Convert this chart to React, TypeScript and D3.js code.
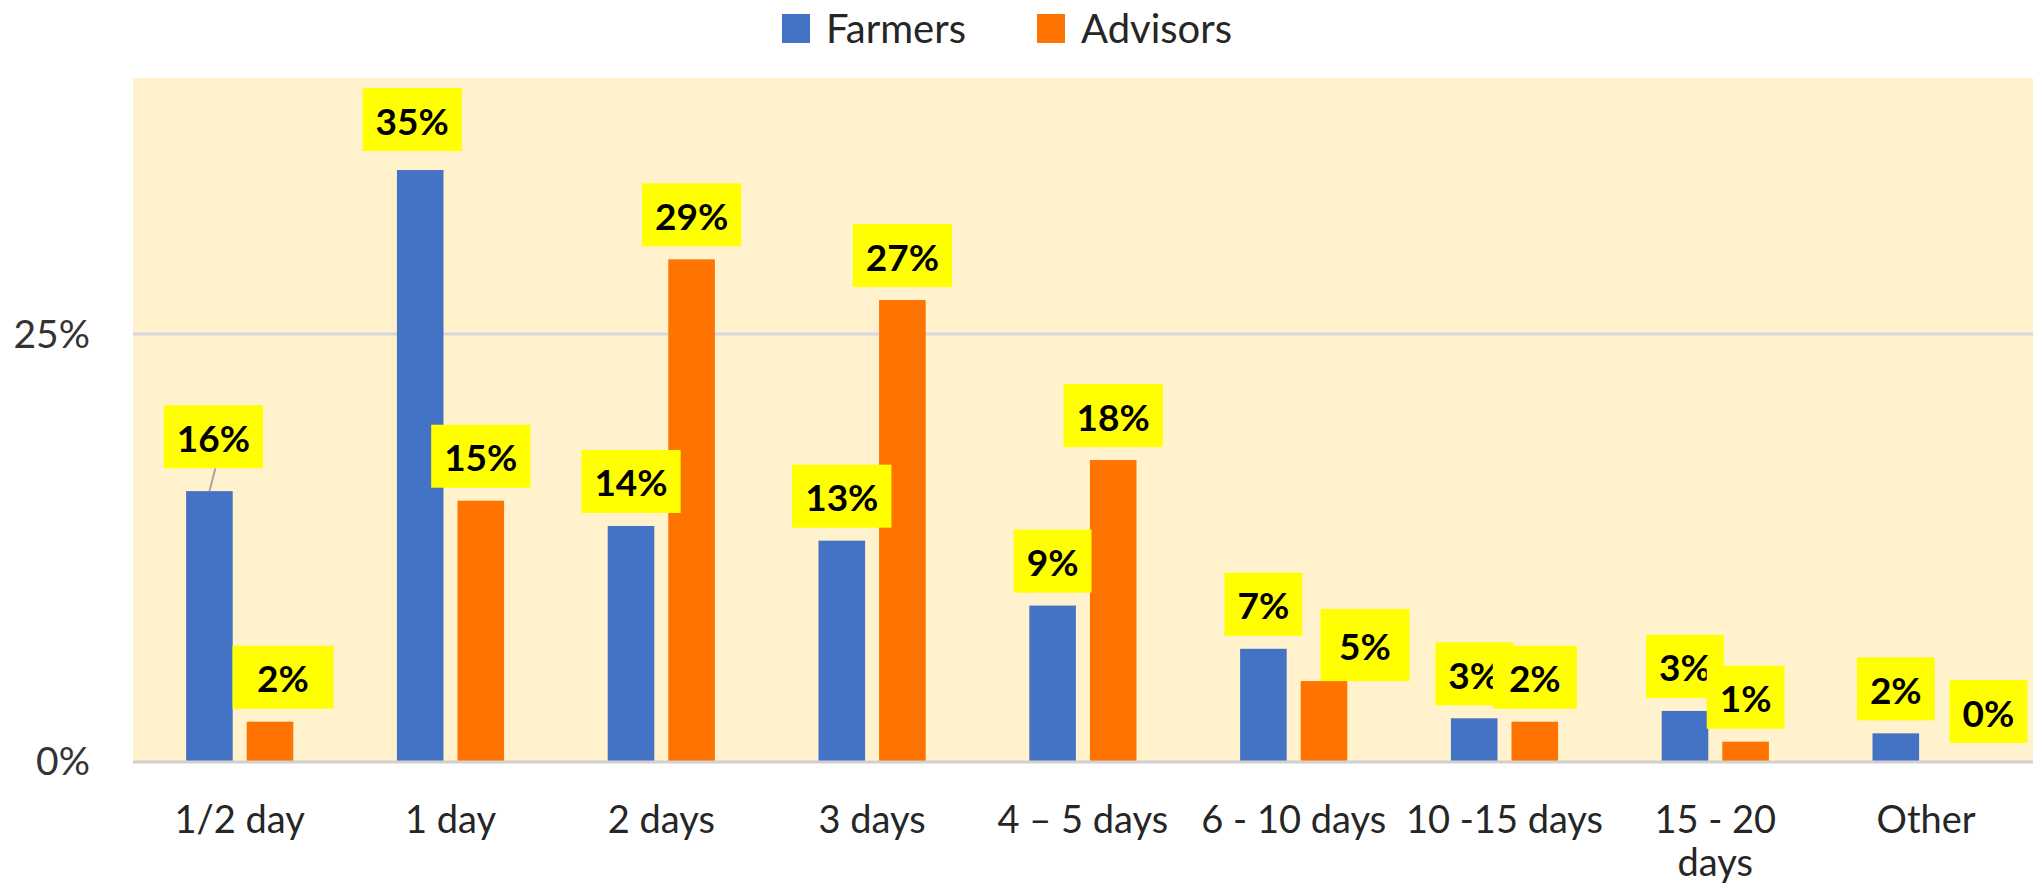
import React, { useEffect, useRef } from 'react';
import * as d3 from 'd3';

// ---- data ----
const categories = ['1/2 day', '1 day', '2 days', '3 days', '4 – 5 days', '6 - 10 days', '10 -15 days', '15 - 20 days', 'Other'];
const seriesNames = ['Farmers', 'Advisors'];
const farmers = [0.158, 0.346, 0.1376, 0.129, 0.091, 0.0657, 0.025, 0.0293, 0.0162];
const advisors = [0.023, 0.1524, 0.2937, 0.2699, 0.1762, 0.0468, 0.023, 0.0113, 0];
const yTicks = [0, 0.25];

// ---- layout / style config ----
const W = 2033;
const H = 891;
const seriesColors = ['#4472C4', '#FF7300'];
const labelLines: Record<string, string[]> = { '15 - 20 days': ['15 - 20', 'days'] };
// manual nudges of data labels (dx from bar centre, gap above bar top, optional box width/height, leader line)
const farmerLabelNudge = [
  { dx: 4, gap: 23, leader: true }, { dx: -8, gap: 19 }, {}, {}, {}, {}, {}, {}, {},
];
const advisorLabelNudge = [
  { dx: 13, gap: 13, w: 101 }, {}, {}, {}, {}, { dx: 41, gap: 0, w: 89, h: 72 }, { w: 84 }, {}, { dx: 32, gap: 18 },
];

const FONT = 'Lato, "Open Sans", "DejaVu Sans", sans-serif';

export default function App() {
  const ref = useRef<SVGSVGElement | null>(null);

  useEffect(() => {
    const svg = d3.select(ref.current);
    svg.selectAll('*').remove();

    const left = 134.3, right = 2031.5, bottom = 761;
    const x0 = d3.scaleBand<string>().domain(categories).range([left, right]).paddingInner(0).paddingOuter(0);
    const x1 = d3.scaleBand<string>().domain(seriesNames).range([0, x0.bandwidth()]).paddingInner(0.231).paddingOuter(0.855);
    const y = d3.scaleLinear().domain([0, 0.4]).range([bottom, 77.8]);
    const fmt = d3.format('.0%');

    // plot background
    svg.append('rect').attr('x', 133).attr('y', y(0.4)).attr('width', W - 133).attr('height', bottom - y(0.4)).attr('fill', '#FFF2CC');

    // gridlines
    svg.selectAll('line.grid').data(yTicks.filter((t) => t > 0)).enter().append('line')
      .attr('x1', 133).attr('x2', W).attr('y1', (d) => y(d)).attr('y2', (d) => y(d))
      .attr('stroke', '#D5D8DF').attr('stroke-width', 3);

    // tick labels
    svg.selectAll('text.tick').data(yTicks).enter().append('text')
      .attr('x', 90).attr('y', (d) => y(d) + 14).attr('text-anchor', 'end')
      .attr('font-family', FONT).attr('font-size', 39).attr('fill', '#333')
      .text((d) => d3.format('.0%')(d));

    const seriesData = [farmers, advisors];

    // bars
    seriesData.forEach((vals, si) => {
      svg.selectAll(`rect.bar${si}`).data(vals).enter().append('rect')
        .attr('x', (_, i) => (x0(categories[i]) as number) + (x1(seriesNames[si]) as number))
        .attr('y', (d) => y(d))
        .attr('width', x1.bandwidth())
        .attr('height', (d) => bottom - y(d))
        .attr('fill', seriesColors[si]);
    });

    // baseline
    svg.append('line').attr('x1', 133).attr('x2', W).attr('y1', bottom + 1).attr('y2', bottom + 1)
      .attr('stroke', '#D0D0D0').attr('stroke-width', 3);

    // data labels
    const nudges = [farmerLabelNudge, advisorLabelNudge];
    seriesData.forEach((vals, si) => {
      vals.forEach((v, i) => {
        const nd: any = nudges[si][i] || {};
        const cx = (x0(categories[i]) as number) + (x1(seriesNames[si]) as number) + x1.bandwidth() / 2;
        const top = y(v);
        const g = svg.append('g');
        const t = g.append('text').attr('font-family', FONT).attr('font-weight', 700).attr('font-size', 37)
          .attr('fill', '#000').attr('text-anchor', 'middle').text(fmt(v));
        const tw = (t.node() as SVGTextElement).getComputedTextLength();
        const bw = nd.w ?? tw + 26;
        const bh = nd.h ?? 63;
        const gap = nd.gap ?? 13;
        const bx = cx + (nd.dx ?? 0);
        const bBottom = top - gap;
        const bTop = bBottom - bh;
        if (nd.leader) {
          g.insert('line', 'text').attr('x1', bx + 2).attr('y1', bBottom).attr('x2', cx).attr('y2', top)
            .attr('stroke', '#A6A6A6').attr('stroke-width', 2);
        }
        g.insert('rect', 'text').attr('x', bx - bw / 2).attr('y', bTop).attr('width', bw).attr('height', bh).attr('fill', '#FFFF00');
        t.attr('x', bx).attr('y', bTop + bh / 2 + 15);
      });
    });

    // category labels
    categories.forEach((c) => {
      const lines = labelLines[c] || [c];
      const cx = (x0(c) as number) + x0.bandwidth() / 2;
      const t = svg.append('text').attr('font-family', FONT).attr('font-size', 38).attr('fill', '#262626')
        .attr('text-anchor', 'middle');
      lines.forEach((ln, li) => {
        t.append('tspan').attr('x', cx).attr('y', 833 + li * 43).text(ln);
      });
    });

    // legend
    const legendX = [782, 1037];
    seriesNames.forEach((s, si) => {
      svg.append('rect').attr('x', legendX[si]).attr('y', 14).attr('width', 28).attr('height', 29).attr('fill', seriesColors[si]);
      svg.append('text').attr('x', legendX[si] + 44).attr('y', 43).attr('font-family', FONT).attr('font-size', 40)
        .attr('fill', '#262626').text(s);
    });
  }, []);

  return (
    <svg ref={ref} width={W} height={H} style={{ position: 'absolute', left: 0, top: 0, background: '#fff' }} />
  );
}
